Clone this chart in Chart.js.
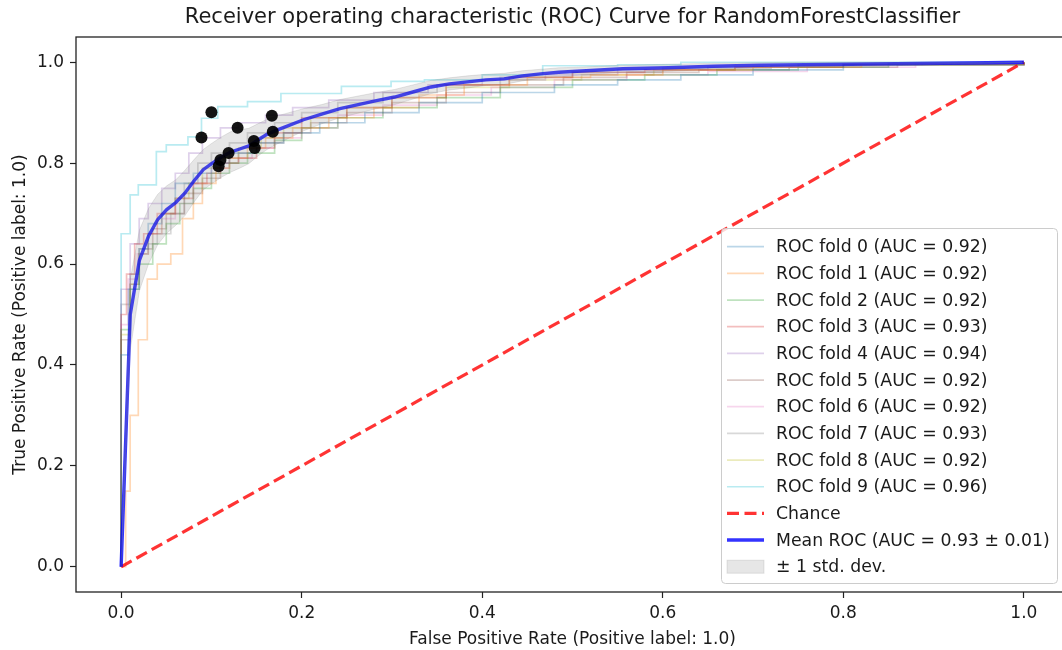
<!DOCTYPE html>
<html>
<head>
<meta charset="utf-8">
<script src="https://cdn.jsdelivr.net/npm/chart.js@4.4.1/dist/chart.umd.min.js"></script>
<style>
  html, body { margin: 0; padding: 0; background: #fff; overflow: hidden; }
  #wrap { width: 1062px; height: 650px; overflow: hidden; }
</style>
</head>
<body>
<div id="wrap"><canvas id="rocChart" width="1075" height="650"></canvas></div>
<script>
// ---- data ----
var foldAUC = [0.92, 0.92, 0.92, 0.93, 0.94, 0.92, 0.92, 0.93, 0.92, 0.96];
var meanAUC = 0.93;
var stdAUC = 0.01;

var fpr0 = [0, 0, 0.008, 0.02, 0.03, 0.045, 0.06, 0.08, 0.10, 0.12, 0.15, 0.18, 0.22, 0.27, 0.33, 0.40, 0.48, 0.55, 0.62, 0.70, 0.80, 1.0];
var tpr0 = [0, 0.42, 0.55, 0.63, 0.68, 0.72, 0.76, 0.78, 0.80, 0.82, 0.84, 0.86, 0.88, 0.90, 0.92, 0.94, 0.955, 0.965, 0.975, 0.985, 0.995, 1.0];
var fpr1 = [0, 0.005, 0.01, 0.019, 0.029, 0.04, 0.055, 0.068, 0.08, 0.09, 0.105, 0.12, 0.14, 0.16, 0.19, 0.23, 0.28, 0.33, 0.38, 0.45, 0.52, 0.60, 0.70, 0.82, 1.0];
var tpr1 = [0, 0.15, 0.30, 0.45, 0.57, 0.60, 0.62, 0.69, 0.72, 0.76, 0.79, 0.81, 0.83, 0.85, 0.87, 0.89, 0.91, 0.935, 0.955, 0.97, 0.975, 0.985, 0.99, 0.995, 1.0];
var fpr2 = [0, 0, 0.01, 0.02, 0.035, 0.05, 0.065, 0.08, 0.10, 0.12, 0.14, 0.17, 0.20, 0.24, 0.29, 0.35, 0.42, 0.50, 0.58, 0.66, 0.75, 0.85, 1.0];
var tpr2 = [0, 0.47, 0.55, 0.60, 0.64, 0.68, 0.72, 0.75, 0.78, 0.80, 0.82, 0.845, 0.87, 0.89, 0.91, 0.93, 0.95, 0.965, 0.975, 0.985, 0.99, 0.995, 1.0];
var fpr3 = [0, 0, 0.006, 0.015, 0.025, 0.04, 0.06, 0.08, 0.095, 0.11, 0.13, 0.15, 0.17, 0.20, 0.25, 0.30, 0.36, 0.43, 0.50, 0.58, 0.68, 0.80, 1.0];
var tpr3 = [0, 0.50, 0.58, 0.64, 0.66, 0.70, 0.73, 0.76, 0.78, 0.80, 0.81, 0.83, 0.86, 0.89, 0.91, 0.93, 0.955, 0.97, 0.98, 0.985, 0.99, 0.996, 1.0];
var fpr4 = [0, 0, 0.01, 0.02, 0.03, 0.045, 0.06, 0.075, 0.09, 0.11, 0.13, 0.16, 0.19, 0.23, 0.28, 0.34, 0.40, 0.47, 0.55, 0.65, 0.75, 1.0];
var tpr4 = [0, 0.55, 0.64, 0.69, 0.72, 0.75, 0.78, 0.82, 0.85, 0.87, 0.88, 0.895, 0.91, 0.925, 0.94, 0.955, 0.965, 0.975, 0.985, 0.99, 0.995, 1.0];
var fpr5 = [0, 0, 0.01, 0.02, 0.035, 0.05, 0.07, 0.09, 0.11, 0.13, 0.15, 0.18, 0.21, 0.25, 0.30, 0.36, 0.42, 0.49, 0.56, 0.64, 0.74, 0.86, 1.0];
var tpr5 = [0, 0.45, 0.56, 0.63, 0.67, 0.70, 0.74, 0.77, 0.80, 0.82, 0.84, 0.86, 0.88, 0.90, 0.92, 0.94, 0.955, 0.97, 0.98, 0.985, 0.99, 0.995, 1.0];
var fpr6 = [0, 0, 0.008, 0.018, 0.03, 0.045, 0.06, 0.08, 0.10, 0.12, 0.145, 0.17, 0.20, 0.24, 0.29, 0.35, 0.41, 0.48, 0.56, 0.65, 0.76, 0.88, 1.0];
var tpr6 = [0, 0.48, 0.57, 0.62, 0.66, 0.69, 0.72, 0.76, 0.79, 0.81, 0.83, 0.85, 0.87, 0.895, 0.915, 0.935, 0.95, 0.965, 0.975, 0.982, 0.99, 0.996, 1.0];
var fpr7 = [0, 0, 0.01, 0.02, 0.03, 0.04, 0.055, 0.07, 0.085, 0.10, 0.12, 0.14, 0.17, 0.20, 0.24, 0.29, 0.35, 0.42, 0.50, 0.60, 0.72, 0.85, 1.0];
var tpr7 = [0, 0.52, 0.58, 0.62, 0.64, 0.66, 0.70, 0.76, 0.80, 0.82, 0.84, 0.86, 0.88, 0.90, 0.92, 0.94, 0.955, 0.97, 0.98, 0.988, 0.993, 0.997, 1.0];
var fpr8 = [0, 0, 0.01, 0.02, 0.03, 0.045, 0.06, 0.075, 0.09, 0.11, 0.13, 0.155, 0.18, 0.21, 0.25, 0.30, 0.36, 0.43, 0.51, 0.59, 0.68, 0.80, 1.0];
var tpr8 = [0, 0.46, 0.56, 0.62, 0.66, 0.70, 0.73, 0.76, 0.79, 0.81, 0.83, 0.85, 0.87, 0.89, 0.91, 0.93, 0.95, 0.965, 0.975, 0.985, 0.99, 0.995, 1.0];
var fpr9 = [0, 0, 0.01, 0.019, 0.039, 0.05, 0.074, 0.089, 0.107, 0.14, 0.177, 0.244, 0.299, 0.336, 0.40, 0.467, 0.55, 0.62, 1.0];
var tpr9 = [0, 0.66, 0.737, 0.757, 0.823, 0.836, 0.852, 0.889, 0.912, 0.922, 0.938, 0.952, 0.962, 0.965, 0.975, 0.993, 0.995, 1.0, 1.0];

var meanFpr = [0, 0.0101, 0.0202, 0.0303, 0.0404, 0.0505, 0.0606, 0.0707, 0.0808, 0.0909, 0.101, 0.1111, 0.1212, 0.1313, 0.1414, 0.1515, 0.1616, 0.1717, 0.1818, 0.202, 0.2222, 0.2424, 0.2626, 0.2828, 0.303, 0.3232, 0.3434, 0.3636, 0.3838, 0.404, 0.4242, 0.4444, 0.4646, 0.4848, 0.5051, 0.5556, 0.6061, 0.6566, 0.7071, 0.7576, 0.8081, 0.8586, 0.9091, 0.9596, 1.0];
var meanTpr = [0, 0.50, 0.607, 0.655, 0.688, 0.708, 0.722, 0.741, 0.765, 0.787, 0.800, 0.812, 0.822, 0.828, 0.834, 0.846, 0.857, 0.865, 0.872, 0.886, 0.897, 0.908, 0.916, 0.924, 0.931, 0.941, 0.951, 0.957, 0.961, 0.965, 0.967, 0.973, 0.977, 0.980, 0.982, 0.987, 0.989, 0.992, 0.994, 0.995, 0.996, 0.997, 0.998, 0.999, 1.0];
var stdTpr = [0, 0.07, 0.06, 0.055, 0.05, 0.047, 0.045, 0.045, 0.042, 0.04, 0.04, 0.04, 0.04, 0.038, 0.035, 0.032, 0.03, 0.028, 0.026, 0.022, 0.019, 0.018, 0.017, 0.016, 0.015, 0.014, 0.013, 0.012, 0.012, 0.011, 0.011, 0.010, 0.009, 0.009, 0.008, 0.007, 0.007, 0.006, 0.005, 0.005, 0.004, 0.003, 0.002, 0.001, 0];

var chanceX = [0, 1];
var chanceY = [0, 1];

var dotX = [0.100, 0.089, 0.129, 0.167, 0.168, 0.147, 0.148, 0.119, 0.110, 0.108];
var dotY = [0.901, 0.851, 0.870, 0.894, 0.862, 0.844, 0.830, 0.820, 0.806, 0.794];

var tickVals = [0, 0.2, 0.4, 0.6, 0.8, 1.0];

var foldFpr = [fpr0, fpr1, fpr2, fpr3, fpr4, fpr5, fpr6, fpr7, fpr8, fpr9];
var foldTpr = [tpr0, tpr1, tpr2, tpr3, tpr4, tpr5, tpr6, tpr7, tpr8, tpr9];
var foldColors = ['31,119,180', '255,127,14', '44,160,44', '214,39,40', '148,103,189', '140,86,75', '227,119,194', '127,127,127', '188,189,34', '23,190,207'];

var FONT = 'DejaVu Sans';
var TEXT = '#1a1a1a';

function pts(xs, ys) {
    return xs.map(function (x, i) { return { x: x, y: ys[i] }; });
}

var datasets = [];

// black dots on top
datasets.push({
    label: 'points',
    data: pts(dotX, dotY),
    showLine: false,
    pointRadius: 6,
    pointHoverRadius: 6,
    pointBackgroundColor: 'rgba(0,0,0,0.92)',
    pointBorderWidth: 0,
    order: 0
});

// +/- 1 std band
datasets.push({
    label: '± 1 std. dev.',
    data: pts(meanFpr, meanTpr.map(function (m, i) { return Math.min(m + stdTpr[i], 1); })),
    showLine: true,
    fill: '+1',
    backgroundColor: 'rgba(128,128,128,0.2)',
    borderColor: 'rgba(128,128,128,0.2)',
    borderWidth: 1,
    pointRadius: 0,
    order: 1
});
datasets.push({
    label: 'lower',
    data: pts(meanFpr, meanTpr.map(function (m, i) { return Math.max(m - stdTpr[i], 0); })),
    showLine: true,
    fill: false,
    borderColor: 'rgba(128,128,128,0.2)',
    borderWidth: 1,
    pointRadius: 0,
    order: 1
});

// mean ROC
datasets.push({
    label: 'Mean ROC (AUC = ' + meanAUC.toFixed(2) + ' ± ' + stdAUC.toFixed(2) + ')',
    data: pts(meanFpr, meanTpr),
    showLine: true,
    borderColor: 'rgba(0,0,255,0.8)',
    borderWidth: 3.4,
    pointRadius: 0,
    order: 2
});

// chance
datasets.push({
    label: 'Chance',
    data: pts(chanceX, chanceY),
    showLine: true,
    borderColor: 'rgba(255,0,0,0.8)',
    borderWidth: 3.2,
    borderDash: [12, 5.5],
    pointRadius: 0,
    order: 3
});

// folds
for (var k = 0; k < 10; k++) {
    datasets.push({
        label: 'ROC fold ' + k + ' (AUC = ' + foldAUC[k].toFixed(2) + ')',
        data: pts(foldFpr[k], foldTpr[k]),
        showLine: true,
        stepped: 'before',
        borderColor: 'rgba(' + foldColors[k] + ',0.3)',
        borderWidth: 1.7,
        pointRadius: 0,
        order: 4 + k
    });
}

// frame on all four sides, like matplotlib spines
var framePlugin = {
    id: 'frame',
    afterDatasetsDraw: function (chart) {
        var a = chart.chartArea, ctx = chart.ctx;
        ctx.save();
        ctx.strokeStyle = '#222';
        ctx.lineWidth = 1.3;
        ctx.strokeRect(a.left, a.top, a.right - a.left, a.bottom - a.top);
        ctx.restore();
    }
};

// legend drawn inside the plot, lower right
var legendPlugin = {
    id: 'rocLegend',
    afterDraw: function (chart) {
        var a = chart.chartArea, ctx = chart.ctx;
        var items = [];
        for (var k = 0; k < 10; k++) {
            items.push({ kind: 'line', color: 'rgba(' + foldColors[k] + ',0.3)', width: 1.7, text: 'ROC fold ' + k + ' (AUC = ' + foldAUC[k].toFixed(2) + ')' });
        }
        items.push({ kind: 'dash', color: 'rgba(255,0,0,0.8)', width: 3.2, text: 'Chance' });
        items.push({ kind: 'line', color: 'rgba(0,0,255,0.8)', width: 3.4, text: 'Mean ROC (AUC = ' + meanAUC.toFixed(2) + ' ± ' + stdAUC.toFixed(2) + ')' });
        items.push({ kind: 'patch', color: 'rgba(128,128,128,0.2)', text: '± 1 std. dev.' });

        var w = 336, rowH = 26.67;
        var h = 355;
        var right = a.right - 12, bottom = a.bottom - 9;
        var left = right - w, top = bottom - h;

        ctx.save();
        ctx.beginPath();
        ctx.roundRect(left + 0.5, top + 0.5, w, h, 4);
        ctx.fillStyle = 'rgba(255,255,255,0.8)';
        ctx.fill();
        ctx.strokeStyle = '#cccccc';
        ctx.lineWidth = 1;
        ctx.stroke();

        ctx.font = '17.3px "' + FONT + '"';
        ctx.textBaseline = 'middle';
        ctx.textAlign = 'left';
        items.forEach(function (it, i) {
            var cy = top + 18.7 + i * rowH;
            var hx0 = left + 6, hx1 = left + 43;
            if (it.kind === 'patch') {
                ctx.fillStyle = it.color;
                ctx.fillRect(hx0, cy - 6.5, hx1 - hx0, 13);
                ctx.strokeStyle = it.color;
                ctx.lineWidth = 1;
                ctx.strokeRect(hx0, cy - 6.5, hx1 - hx0, 13);
            } else {
                ctx.beginPath();
                ctx.setLineDash(it.kind === 'dash' ? [12, 5.5] : []);
                ctx.strokeStyle = it.color;
                ctx.lineWidth = it.width;
                ctx.moveTo(hx0, cy);
                ctx.lineTo(hx1, cy);
                ctx.stroke();
                ctx.setLineDash([]);
            }
            ctx.fillStyle = TEXT;
            ctx.fillText(it.text, left + 55, cy + 1);
        });
        ctx.restore();
    }
};

function fixTicks(scale) {
    scale.ticks = tickVals.map(function (v) { return { value: v }; });
}

var ctx = document.getElementById('rocChart');
var rocChart = new Chart(ctx, {
    type: 'scatter',
    data: { datasets: datasets },
    options: {
        responsive: false,
        animation: false,
        devicePixelRatio: 1,
        layout: { padding: { left: 0, right: 5, top: 0, bottom: 0 } },
        plugins: {
            legend: { display: false },
            tooltip: { enabled: false },
            title: {
                display: true,
                fullSize: false,
                text: 'Receiver operating characteristic (ROC) Curve for RandomForestClassifier',
                color: TEXT,
                font: { family: FONT, size: 21, weight: 'normal' },
                padding: { top: 5, bottom: 6.8 }
            }
        },
        scales: {
            x: {
                type: 'linear',
                min: -0.05,
                max: 1.05,
                afterBuildTicks: fixTicks,
                afterFit: function (scale) { scale.height = 58; },
                grid: { drawOnChartArea: false, drawTicks: true, tickLength: 6, tickColor: '#222', tickWidth: 1.2 },
                border: { display: false },
                ticks: {
                    color: TEXT,
                    padding: 5,
                    maxRotation: 0,
                    font: { family: FONT, size: 17 },
                    callback: function (v) { return Number(v).toFixed(1); }
                },
                title: {
                    display: true,
                    text: 'False Positive Rate (Positive label: 1.0)',
                    color: TEXT,
                    font: { family: FONT, size: 17 },
                    padding: { top: 4, bottom: 0 }
                }
            },
            y: {
                type: 'linear',
                min: -0.05,
                max: 1.05,
                afterBuildTicks: fixTicks,
                afterFit: function (scale) { scale.width = 76; },
                grid: { drawOnChartArea: false, drawTicks: true, tickLength: 6, tickColor: '#222', tickWidth: 1.2 },
                border: { display: false },
                ticks: {
                    color: TEXT,
                    padding: 6,
                    font: { family: FONT, size: 17 },
                    callback: function (v) { return Number(v).toFixed(1); }
                },
                title: {
                    display: true,
                    text: 'True Positive Rate (Positive label: 1.0)',
                    color: TEXT,
                    font: { family: FONT, size: 17 },
                    padding: { top: 10, bottom: 0 }
                }
            }
        }
    },
    plugins: [framePlugin, legendPlugin]
});
</script>
</body>
</html>
